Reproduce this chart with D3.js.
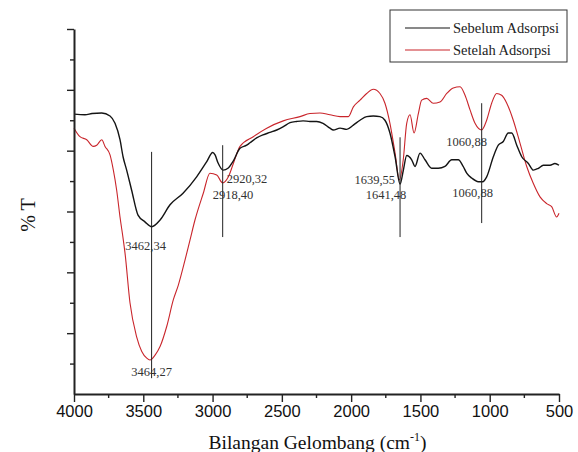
<!DOCTYPE html>
<html>
<head>
<meta charset="utf-8">
<script src="https://cdn.jsdelivr.net/npm/d3@7"></script>
<style>
  body { margin: 0; background: #fff; }
  svg { display: block; }
</style>
</head>
<body>
<svg id="chart" width="578" height="452"></svg>
<script>
// wavenumber (cm-1) / transmittance readings, taken off the spectrum
const sebelumWn = [4000, 3921, 3870, 3800, 3740, 3704, 3668, 3646, 3620, 3584, 3538, 3488, 3439, 3379, 3307, 3213, 3115, 3042, 2999, 2982, 2961, 2923, 2889, 2853, 2802, 2754, 2730, 2682, 2636, 2586, 2537, 2492, 2441, 2393, 2347, 2297, 2249, 2203, 2153, 2129, 2080, 2032, 1984, 1936, 1888, 1840, 1792, 1756, 1720, 1683, 1647, 1624, 1599, 1563, 1539, 1503, 1467, 1419, 1371, 1323, 1274, 1227, 1191, 1166, 1130, 1082, 1051, 1022, 974, 938, 902, 866, 841, 805, 769, 721, 685, 649, 613, 565, 529, 500];
const sebelumT = [46.0, 45.9, 46.1, 46.2, 45.7, 44.5, 41.8, 39.0, 36.8, 33.5, 29.4, 28.3, 27.5, 28.6, 31.1, 33.0, 35.7, 38.2, 39.7, 39.3, 38.0, 36.8, 37.1, 38.2, 40.4, 40.9, 41.3, 42.1, 42.6, 43.0, 43.4, 43.9, 44.6, 44.8, 44.9, 44.8, 44.8, 44.5, 43.7, 43.4, 43.7, 43.5, 44.2, 45.0, 45.6, 45.7, 45.6, 45.0, 42.9, 39.0, 34.5, 36.7, 39.2, 38.5, 37.4, 39.6, 38.5, 37.1, 37.1, 37.4, 38.5, 38.5, 37.4, 36.3, 35.5, 34.9, 34.9, 35.7, 39.0, 40.9, 41.5, 42.9, 42.9, 40.9, 39.0, 37.9, 36.8, 37.1, 37.6, 37.6, 37.9, 37.6];

const setelahWn = [4000, 3957, 3908, 3861, 3836, 3800, 3776, 3740, 3716, 3692, 3668, 3644, 3632, 3596, 3548, 3511, 3475, 3452, 3415, 3379, 3331, 3283, 3247, 3199, 3163, 3127, 3067, 3019, 2970, 2927, 2886, 2850, 2802, 2706, 2609, 2490, 2369, 2297, 2225, 2153, 2080, 2020, 1984, 1936, 1888, 1840, 1792, 1756, 1720, 1683, 1652, 1624, 1599, 1575, 1546, 1515, 1491, 1455, 1407, 1359, 1310, 1263, 1214, 1178, 1142, 1106, 1058, 1022, 986, 950, 914, 877, 830, 781, 733, 685, 637, 589, 553, 517, 500];
const setelahT = [43.7, 42.3, 41.8, 40.7, 40.9, 41.8, 40.7, 39.3, 36.8, 33.5, 29.1, 25.3, 23.2, 15.0, 9.4, 7.0, 5.9, 5.6, 6.4, 7.8, 11.1, 15.5, 17.9, 22.0, 25.3, 28.6, 33.0, 36.3, 36.0, 34.7, 35.7, 37.9, 40.7, 42.3, 43.7, 44.9, 45.6, 46.1, 46.2, 45.9, 45.6, 45.6, 47.2, 48.3, 49.4, 50.1, 49.4, 47.8, 44.5, 39.6, 35.2, 38.5, 44.5, 45.9, 42.9, 46.1, 48.3, 48.6, 47.8, 48.0, 49.4, 50.3, 50.5, 49.1, 46.7, 44.5, 43.4, 45.0, 47.8, 49.4, 49.1, 47.8, 45.0, 41.2, 37.4, 34.6, 32.4, 31.3, 30.8, 29.1, 29.7];

const seriesNames = ["Sebelum Adsorpsi", "Setelah Adsorpsi"];
const xTicks = [4000, 3500, 3000, 2500, 2000, 1500, 1000, 500];

// marked peaks: wavenumber of the guide line, its top/bottom in %T, and the labels
const peakWn = [3440, 2927, 1647, 1058];
const peakTop = [39.8, 40.9, 42.2, 47.8];
const peakBottom = [2.6, 25.8, 25.8, 28.1];
const peakLabelsSebelum = ["3462,34", "2920,32", "1639,55", "1060,88"];
const peakLabelsSetelah = ["3464,27", "2918,40", "1641,48", "1060,88"];

const SERIF = '"Liberation Serif", "Times New Roman", serif';
const SANS = '"Liberation Sans", Arial, sans-serif';

const margin = {top: 29, right: 19, bottom: 58, left: 74};
const width = 578 - margin.left - margin.right;
const height = 452 - margin.top - margin.bottom;

const svg = d3.select("#chart");
const g = svg.append("g").attr("transform", `translate(${margin.left},${margin.top})`);

const x = d3.scaleLinear().domain([4000, 500]).range([0, width]);
const y = d3.scaleLinear().domain([0, 60]).range([height, 0]);

const line = d3.line()
  .x(d => x(d[0]))
  .y(d => y(d[1]))
  .curve(d3.curveMonotoneX);

const sebelum = sebelumWn.map((w, i) => [w, sebelumT[i]]);
const setelah = setelahWn.map((w, i) => [w, setelahT[i]]);

g.append("path").datum(setelah)
  .attr("fill", "none").attr("stroke", "#c9252b").attr("stroke-width", 1.1)
  .attr("d", line);

g.append("path").datum(sebelum)
  .attr("fill", "none").attr("stroke", "#141414").attr("stroke-width", 1.4)
  .attr("d", line);

// guide lines at the peaks
g.selectAll(".peak").data(peakWn).enter().append("line")
  .attr("class", "peak")
  .attr("x1", d => x(d)).attr("x2", d => x(d))
  .attr("y1", (d, i) => y(peakTop[i])).attr("y2", (d, i) => y(peakBottom[i]))
  .attr("stroke", "#222").attr("stroke-width", 1);

// label offsets relative to each guide line (px): [dx, baseline value, anchor]
const sebelumPos = [[-6, 23.6, "middle"], [4, 34.7, "start"], [-5, 34.6, "end"], [-15, 40.8, "middle"]];
const setelahPos = [[0, 2.9, "middle"], [-10, 32.0, "start"], [-14, 32.0, "middle"], [-9, 32.4, "middle"]];

function peakText(labels, pos) {
  g.append("g").selectAll("text").data(labels).enter().append("text")
    .style("font-family", SERIF)
    .attr("x", (d, i) => x(peakWn[i]) + pos[i][0])
    .attr("y", (d, i) => y(pos[i][1]))
    .attr("text-anchor", (d, i) => pos[i][2])
    .attr("font-size", 12.5)
    .attr("fill", "#333")
    .text(d => d);
}
peakText(peakLabelsSebelum, sebelumPos);
peakText(peakLabelsSetelah, setelahPos);

// axes
const xAxis = d3.axisBottom(x).tickValues(xTicks).tickFormat(d3.format("d"))
  .tickSize(8).tickSizeOuter(0).tickPadding(3);
const gx = g.append("g").attr("transform", `translate(0,${height})`).call(xAxis);
gx.append("g").selectAll("line")
  .data(xTicks.slice(1).map(t => t + 250)).enter().append("line")
  .attr("x1", d => x(d)).attr("x2", d => x(d)).attr("y1", 0).attr("y2", 4)
  .attr("stroke", "#222").attr("stroke-width", 1.4);
gx.selectAll("text")
  .style("font-family", SANS)
  .attr("font-size", 16.5).attr("fill", "#111");

const yAxis = d3.axisLeft(y).ticks(12).tickSize(4).tickSizeOuter(0).tickFormat("");
const gy = g.append("g").call(yAxis);
gy.selectAll(".tick line").filter(d => d % 10 === 0).attr("x2", -7);
gy.selectAll(".tick").filter(d => d === 0).remove();

[gx, gy].forEach(a => {
  a.select(".domain").attr("stroke", "#222").attr("stroke-width", 2);
  a.selectAll(".tick line").attr("stroke", "#222").attr("stroke-width", 1.4);
});

// axis titles
const xTitle = svg.append("text")
  .style("font-family", SERIF)
  .attr("x", margin.left + width / 2 + 1).attr("y", 449)
  .attr("text-anchor", "middle")
  .attr("font-size", 19.5).attr("fill", "#111");
xTitle.append("tspan").text("Bilangan Gelombang (cm");
xTitle.append("tspan").attr("font-size", 12).attr("dy", -8).text("-1");
xTitle.append("tspan").attr("dy", 8).text(")");

svg.append("text")
  .style("font-family", SERIF)
  .attr("transform", "translate(35,215) rotate(-90)")
  .attr("text-anchor", "middle")
  .attr("font-size", 20).attr("fill", "#111")
  .text("% T");

// legend
const colors = ["#141414", "#c9252b"];
const legend = svg.append("g").attr("transform", "translate(390,10)");
legend.append("rect")
  .attr("width", 177).attr("height", 52)
  .attr("fill", "#fff").attr("stroke", "#333").attr("stroke-width", 1);
const item = legend.selectAll(".item").data(seriesNames).enter().append("g")
  .attr("transform", (d, i) => `translate(0,${18 + i * 22})`);
item.append("line")
  .attr("x1", 15).attr("x2", 60)
  .attr("stroke", (d, i) => colors[i]).attr("stroke-width", 1.1);
item.append("text")
  .style("font-family", SERIF)
  .attr("x", 63).attr("y", 5)
  .attr("font-size", 14.5).attr("fill", "#222")
  .text(d => d);
</script>
</body>
</html>
